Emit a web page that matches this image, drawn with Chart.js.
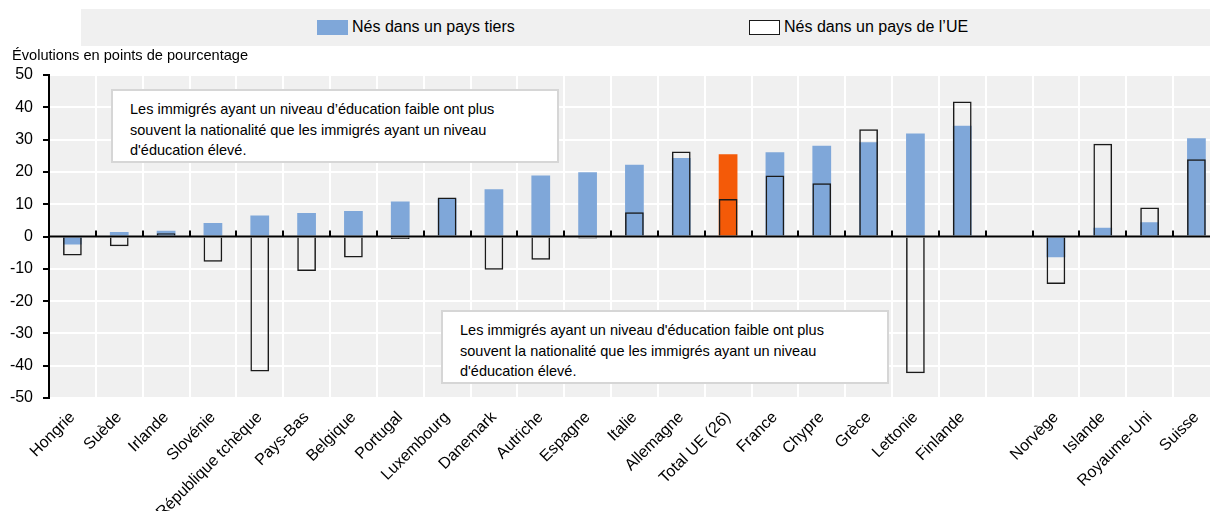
<!DOCTYPE html>
<html>
<head>
<meta charset="utf-8">
<script src="https://cdn.jsdelivr.net/npm/chart.js@4/dist/chart.umd.min.js"></script>
<style>
  html, body { margin: 0; padding: 0; background: #fff; overflow: hidden; }
  body { font-family: "Liberation Sans", Arial, sans-serif; color: #000; }
  #wrap { position: relative; width: 1220px; height: 511px; }
  #chart { position: absolute; left: 0; top: 0; }
  #legend { position: absolute; left: 81px; top: 9px; width: 1140px; height: 37px; background: #f0f0f0; }
  .sw { position: absolute; top: 11px; width: 31px; height: 15px; box-sizing: border-box; }
  .lt { position: absolute; top: 8px; font-size: 16px; line-height: 20px; white-space: nowrap; }
  #ytitle { position: absolute; left: 12px; top: 47px; font-size: 14.6px; white-space: nowrap; }
  .note { position: absolute; background: #fff; border: 2px solid #d6d6d6; box-sizing: border-box;
          font-size: 14.5px; line-height: 20.5px; padding: 8px 0 0 17px; white-space: nowrap; }
</style>
</head>
<body>
<div id="wrap">
  <canvas id="chart" width="1220" height="511"></canvas>
  <div id="legend">
    <div class="sw" style="left:236px;background:#7fa7d9;"></div>
    <div class="lt" style="left:271px;">Nés dans un pays tiers</div>
    <div class="sw" style="left:668px;background:#fff;border:1.5px solid #1a1a1a;"></div>
    <div class="lt" style="left:703px;">Nés dans un pays de l’UE</div>
  </div>
  <div id="ytitle">Évolutions en points de pourcentage</div>
  <div class="note" style="left:111px;top:89px;width:448px;height:74px;">Les immigrés ayant un niveau d’éducation faible ont plus<br>souvent la nationalité que les immigrés ayant un niveau<br>d'éducation élevé.</div>
  <div class="note" style="left:441px;top:310px;width:448px;height:74px;">Les immigrés ayant un niveau d'éducation faible ont plus<br>souvent la nationalité que les immigrés ayant un niveau<br>d'éducation élevé.</div>
</div>
<script>
const categories = [
  "Hongrie", "Suède", "Irlande", "Slovénie", "République tchèque", "Pays-Bas",
  "Belgique", "Portugal", "Luxembourg", "Danemark", "Autriche", "Espagne",
  "Italie", "Allemagne", "Total UE (26)", "France", "Chypre", "Grèce",
  "Lettonie", "Finlande", "", "Norvège", "Islande", "Royaume-Uni", "Suisse",
];
// Nés dans un pays tiers
const tiers = [
  -2.5, 1.4, 1.8, 4.2, 6.5, 7.3, 7.9, 10.8, 11.8, 14.6, 18.9, 19.9,
  22.2, 24.3, 25.5, 26.1, 28.1, 29.2, 31.9, 34.3, null, -6.4, 2.7, 4.4, 30.4,
];
// Nés dans un pays de l'UE
const ue = [
  -5.9, -3.0, 1.0, -7.8, -41.8, -10.7, -6.5, -0.8, 12.1, -10.3, -7.2, -0.6,
  7.5, 26.3, 11.6, 18.9, 16.5, 33.2, -42.3, 41.8, null, -14.7, 28.7, 9.0, 23.9,
];
const yTicks = [-50, -40, -30, -20, -10, 0, 10, 20, 30, 40, 50];

const BLUE = "#7fa7d9";
const ORANGE = "#f45a08";

const decor = {
  id: "decor",
  beforeDraw(chart) {
    const { ctx, chartArea: a } = chart;
    ctx.save();
    ctx.fillStyle = "#f0f0f0";
    ctx.fillRect(a.left, a.top, a.right - a.left, a.bottom - a.top);
    ctx.restore();
  },
  afterDatasetsDraw(chart) {
    const { ctx, chartArea: a } = chart;
    const x = chart.scales.x, y = chart.scales.y;
    const y0 = y.getPixelForValue(0);
    ctx.save();
    ctx.strokeStyle = "#000";
    ctx.lineWidth = 2;
    ctx.beginPath();
    ctx.moveTo(a.left, y0);
    ctx.lineTo(a.right, y0);
    ctx.stroke();
    // small ticks between categories on the zero line
    ctx.beginPath();
    for (let i = 0; i < categories.length - 1; i++) {
      const bx = Math.round((x.getPixelForValue(i) + x.getPixelForValue(i + 1)) / 2);
      ctx.moveTo(bx, y0);
      ctx.lineTo(bx, y0 - 6);
    }
    ctx.stroke();
    ctx.restore();
  },
};

new Chart(document.getElementById("chart"), {
  type: "bar",
  data: {
    labels: categories,
    datasets: [
      {
        label: "Nés dans un pays tiers",
        data: tiers,
        backgroundColor: categories.map((c) => (c === "Total UE (26)" ? ORANGE : BLUE)),
        borderWidth: 0,
        grouped: false,
        order: 1,
      },
      {
        label: "Nés dans un pays de l’UE",
        data: ue,
        backgroundColor: "rgba(0,0,0,0)",
        borderColor: "#1a1a1a",
        borderWidth: 1.5,
        grouped: false,
        order: 0,
      },
    ],
  },
  options: {
    responsive: false,
    animation: false,
    devicePixelRatio: 1,
    barPercentage: 0.4,
    categoryPercentage: 1,
    layout: { padding: { top: 75, right: 0, left: 0, bottom: 0 } },
    plugins: { legend: { display: false }, tooltip: { enabled: false } },
    scales: {
      x: {
        offset: true,
        grid: { offset: true, color: "#ffffff", lineWidth: 2, drawTicks: false },
        border: { display: false },
        ticks: {
          autoSkip: false,
          minRotation: 45,
          maxRotation: 45,
          padding: 10,
          color: "#000",
          font: { family: "'Liberation Sans', Arial, sans-serif", size: 16 },
        },
        afterFit: (s) => { s.height = 113; },
      },
      y: {
        min: -50,
        max: 50,
        afterBuildTicks: (s) => { s.ticks = yTicks.map((v) => ({ value: v })); },
        grid: { color: "#ffffff", lineWidth: 2, tickColor: "#000", tickLength: 6 },
        border: { display: true, color: "#000", width: 2 },
        ticks: {
          padding: 10,
          color: "#000",
          font: { family: "'Liberation Sans', Arial, sans-serif", size: 16 },
        },
        afterFit: (s) => { s.width = 49; },
      },
    },
  },
  plugins: [decor],
});
</script>
</body>
</html>
